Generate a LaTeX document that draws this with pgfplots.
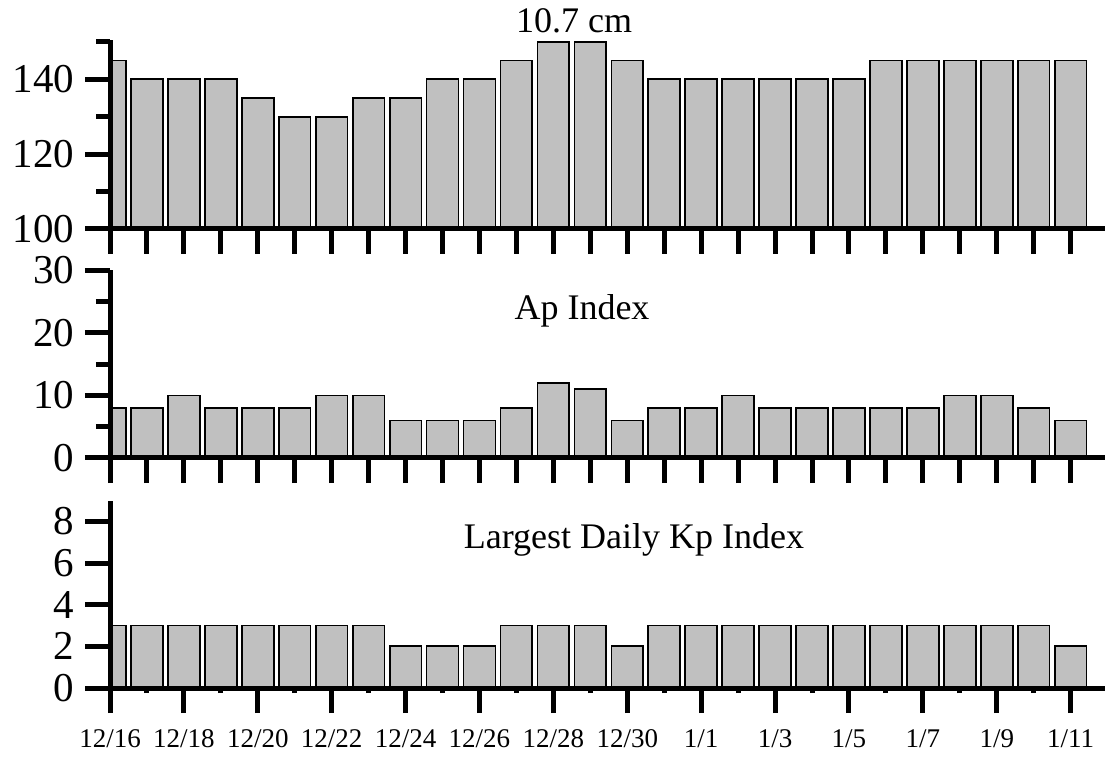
\documentclass[border=0pt]{standalone}
\usepackage{fontspec}
\setmainfont{Liberation Serif}
\usepackage{pgfplots}
\pgfplotsset{compat=1.18}
\definecolor{bargray}{HTML}{C0C0C0}

\pgfplotsset{
  panel/.style={
    scale only axis,
    width=995pt,
    xmin=0, xmax=26.93,
    axis lines=left,
    axis line style={-, line width=5pt},
    axis on top,
    tick align=outside,
    major tick length=25pt,
    minor tick length=14pt,
    tick style={black, line width=5pt},
    ybar, bar width=31.8pt,
    /pgf/number format/assume math mode=true,
    yticklabel style={font=\fontsize{41}{45}\selectfont, xshift=-7pt},
  },
  kbar/.style={fill=bargray, draw=black, line width=1.7pt},
}

\begin{document}
\begin{tikzpicture}
\path[use as bounding box] (0,0) rectangle (1105pt,758pt);

% 10.7 cm flux
\begin{axis}[panel, at={(110pt,529pt)}, anchor=south west,
  height=189pt, ymin=100, ymax=150.5,
  ytick={100,120,140}, minor ytick={110,130,150},
  xtick={0,...,26}, xticklabels={}]
\addplot[kbar] coordinates {
  (0,145) (1,140) (2,140) (3,140) (4,135) (5,130) (6,130) (7,135) (8,135)
  (9,140) (10,140) (11,145) (12,150) (13,150) (14,145) (15,140) (16,140)
  (17,140) (18,140) (19,140) (20,140) (21,145) (22,145) (23,145) (24,145)
  (25,145) (26,145)
};
\end{axis}

% Ap index
\begin{axis}[panel, at={(110pt,300pt)}, anchor=south west,
  height=187.5pt, ymin=0, ymax=30,
  ytick={0,10,20,30}, minor ytick={5,15,25},
  xtick={0,...,26}, xticklabels={}]
\addplot[kbar] coordinates {
  (0,8) (1,8) (2,10) (3,8) (4,8) (5,8) (6,10) (7,10) (8,6)
  (9,6) (10,6) (11,8) (12,12) (13,11) (14,6) (15,8) (16,8)
  (17,10) (18,8) (19,8) (20,8) (21,8) (22,8) (23,10) (24,10)
  (25,8) (26,6)
};
\end{axis}

% largest daily Kp
\begin{axis}[panel, at={(110pt,70pt)}, anchor=south west,
  height=187.5pt, ymin=0, ymax=9,
  ytick={0,2,4,6,8},
  minor tick length=5pt,
  xtick={0,2,...,26}, minor xtick={1,3,...,25},
  xticklabels={12/16,12/18,12/20,12/22,12/24,12/26,12/28,12/30,1/1,1/3,1/5,1/7,1/9,1/11},
  xticklabel style={font=\fontsize{27}{30}\selectfont, yshift=-13pt}]
\addplot[kbar] coordinates {
  (0,3) (1,3) (2,3) (3,3) (4,3) (5,3) (6,3) (7,3) (8,2)
  (9,2) (10,2) (11,3) (12,3) (13,3) (14,2) (15,3) (16,3)
  (17,3) (18,3) (19,3) (20,3) (21,3) (22,3) (23,3) (24,3)
  (25,3) (26,2)
};
\end{axis}

\node[anchor=base, font=\fontsize{36}{40}\selectfont] at (574pt,725pt) {10.7 cm};
\node[anchor=base, font=\fontsize{36}{40}\selectfont] at (582pt,438pt) {Ap Index};
\node[anchor=base, font=\fontsize{36}{40}\selectfont] at (634pt,210pt) {Largest Daily Kp Index};
\end{tikzpicture}
\end{document}
